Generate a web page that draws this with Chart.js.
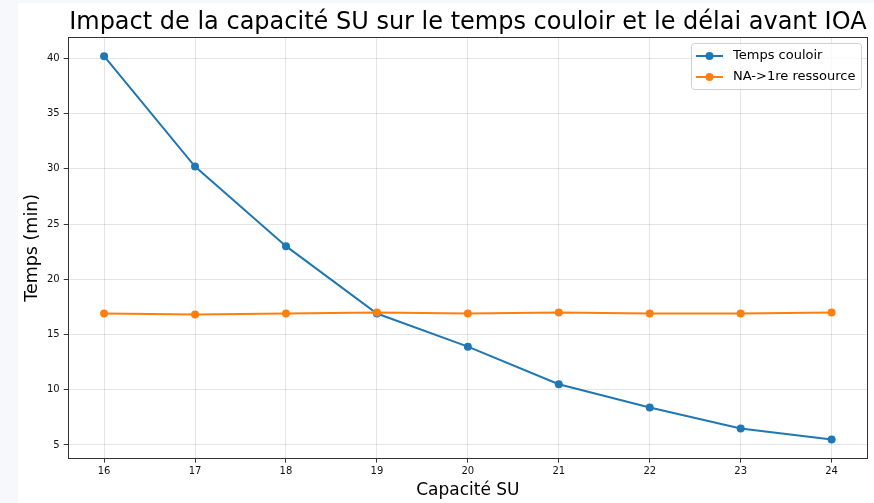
<!DOCTYPE html>
<html>
<head>
<meta charset="utf-8">
<script src="https://cdn.jsdelivr.net/npm/chart.js@4.4.1/dist/chart.umd.min.js"></script>
<style>
  html, body { margin: 0; padding: 0; background: #f7f8fc; }
  #wrap { position: absolute; left: 18px; top: 3px; width: 856px; height: 500px; background: #fff; }
</style>
</head>
<body>
<div id="wrap"><canvas id="chart" width="856" height="500"></canvas></div>
<script>
const capacites = [16, 17, 18, 19, 20, 21, 22, 23, 24];
const tempsCouloir = [40.2, 30.2, 23.0, 16.9, 13.9, 10.5, 8.4, 6.5, 5.5];
const naPremiereRessource = [16.9, 16.8, 16.9, 17.0, 16.9, 17.0, 16.9, 16.9, 17.0];
const yTicks = [5, 10, 15, 20, 25, 30, 35, 40];
const titre = "Impact de la capacité SU sur le temps couloir et le délai avant IOA";

const FONT = "'DejaVu Sans', sans-serif";
const BLUE = "#1f77b4";
const ORANGE = "#ff7f0e";

const toPoints = (ys) => capacites.map((x, i) => ({ x: x, y: ys[i] }));

// titre centré sur la zone du graphe, comme matplotlib
const titlePlugin = {
    id: "mplTitle",
    afterDraw(chart) {
        const { ctx, chartArea } = chart;
        ctx.save();
        ctx.font = "24px " + FONT;
        ctx.fillStyle = "#000";
        ctx.textAlign = "center";
        ctx.textBaseline = "middle";
        ctx.fillText(titre, (chartArea.left + chartArea.right) / 2, 20);
        ctx.restore();
    }
};

// cadre complet autour des axes
const framePlugin = {
    id: "frame",
    afterDatasetsDraw(chart) {
        const { ctx, chartArea: a } = chart;
        const l = Math.round(a.left) + 0.5, t = Math.round(a.top) + 0.5;
        const r = Math.round(a.right) - 0.5, b = Math.round(a.bottom) - 0.5;
        ctx.save();
        ctx.strokeStyle = "#333";
        ctx.lineWidth = 1;
        ctx.strokeRect(l, t, r - l, b - t);
        ctx.restore();
    }
};

// légende en haut à droite, dans la zone du graphe
const legendPlugin = {
    id: "mplLegend",
    afterDraw(chart) {
        const { ctx, chartArea: a } = chart;
        const items = [
            { label: "Temps couloir", color: BLUE },
            { label: "NA->1re ressource", color: ORANGE }
        ];
        const w = 170, h = 46;
        const x = a.right - 7 - w, y = a.top + 6;
        ctx.save();
        ctx.beginPath();
        ctx.roundRect(x + 0.5, y + 0.5, w, h, 3);
        ctx.fillStyle = "rgba(255,255,255,0.8)";
        ctx.fill();
        ctx.strokeStyle = "#d0d0d0";
        ctx.lineWidth = 1;
        ctx.stroke();
        ctx.font = "13px " + FONT;
        ctx.textBaseline = "middle";
        items.forEach((it, i) => {
            const cy = y + 13 + i * 21;
            ctx.strokeStyle = it.color;
            ctx.lineWidth = 2;
            ctx.beginPath();
            ctx.moveTo(x + 5, cy);
            ctx.lineTo(x + 32, cy);
            ctx.stroke();
            ctx.fillStyle = it.color;
            ctx.beginPath();
            ctx.arc(x + 18.5, cy, 4, 0, Math.PI * 2);
            ctx.fill();
            ctx.fillStyle = "#000";
            ctx.fillText(it.label, x + 42, cy);
        });
        ctx.restore();
    }
};

const gridOpts = { color: "rgba(0,0,0,0.1)", tickColor: "#333", tickLength: 4, lineWidth: 1 };

new Chart(document.getElementById("chart"), {
    type: "line",
    data: {
        datasets: [
            {
                label: "Temps couloir",
                data: toPoints(tempsCouloir),
                borderColor: BLUE,
                backgroundColor: BLUE,
                borderWidth: 2,
                pointRadius: 4,
                pointHoverRadius: 4,
                pointBorderWidth: 0,
                tension: 0,
                fill: false,
                order: 1
            },
            {
                label: "NA->1re ressource",
                data: toPoints(naPremiereRessource),
                borderColor: ORANGE,
                backgroundColor: ORANGE,
                borderWidth: 2,
                pointRadius: 4,
                pointHoverRadius: 4,
                pointBorderWidth: 0,
                tension: 0,
                fill: false,
                order: 0
            }
        ]
    },
    options: {
        responsive: false,
        devicePixelRatio: 1,
        animation: false,
        layout: { padding: { top: 34, right: 6, left: 0, bottom: 0 } },
        plugins: {
            legend: { display: false },
            title: { display: false },
            tooltip: { enabled: false }
        },
        scales: {
            x: {
                type: "linear",
                min: 15.6,
                max: 24.4,
                afterBuildTicks: (axis) => { axis.ticks = capacites.map(v => ({ value: v })); },
                grid: gridOpts,
                border: { display: false },
                ticks: { font: { family: FONT, size: 10 }, color: "#111", padding: 3, maxRotation: 0 },
                title: { display: true, text: "Capacité SU", font: { family: FONT, size: 17 }, color: "#000", padding: { top: 0, bottom: 2 } }
            },
            y: {
                type: "linear",
                min: 3.765,
                max: 41.935,
                afterBuildTicks: (axis) => { axis.ticks = yTicks.map(v => ({ value: v })); },
                grid: gridOpts,
                border: { display: false },
                ticks: { font: { family: FONT, size: 10 }, color: "#111", padding: 4 },
                title: { display: true, text: "Temps (min)", font: { family: FONT, size: 17.5 }, color: "#000", padding: { top: 4, bottom: 0 } }
            }
        }
    },
    plugins: [titlePlugin, framePlugin, legendPlugin]
});
</script>
</body>
</html>
